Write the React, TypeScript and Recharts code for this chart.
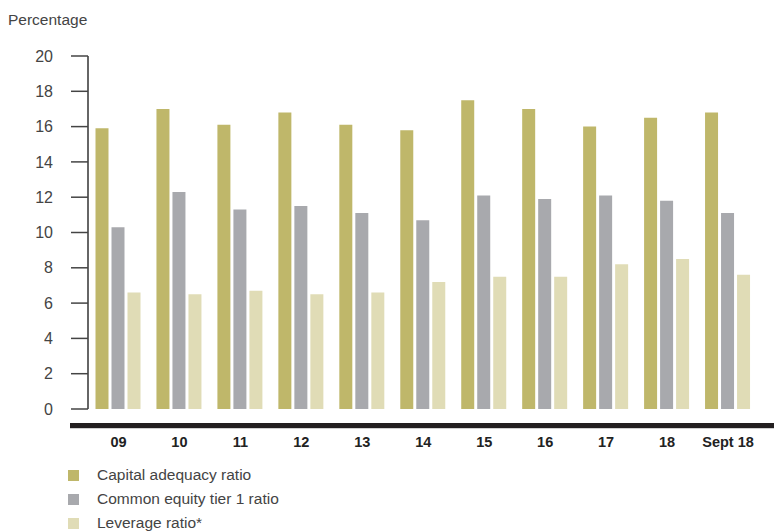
import React from 'react';
import { BarChart, Bar, XAxis, YAxis, Legend } from 'recharts';

const categories = ['09', '10', '11', '12', '13', '14', '15', '16', '17', '18', 'Sept 18'];
const capitalAdequacy = [15.9, 17.0, 16.1, 16.8, 16.1, 15.8, 17.5, 17.0, 16.0, 16.5, 16.8];
const commonEquityTier1 = [10.3, 12.3, 11.3, 11.5, 11.1, 10.7, 12.1, 11.9, 12.1, 11.8, 11.1];
const leverage = [6.6, 6.5, 6.7, 6.5, 6.6, 7.2, 7.5, 7.5, 8.2, 8.5, 7.6];
const yTicks = [0, 2, 4, 6, 8, 10, 12, 14, 16, 18, 20];

const data = categories.map((name, i) => ({
    name,
    capital: capitalAdequacy[i],
    cet1: commonEquityTier1[i],
    leverage: leverage[i],
}));

const FONT = '"Liberation Sans", Arial, Helvetica, sans-serif';

const LegendList = ({ payload }: any) => (
    <div style={{ fontFamily: FONT }}>
        {(payload || []).map((p: any) => (
            <div key={p.value} style={{ display: 'flex', alignItems: 'center', height: 24 }}>
                <span style={{ width: 11, height: 11, background: p.color, display: 'inline-block', marginRight: 18 }} />
                <span style={{ fontSize: 15.5, color: '#444' }}>{p.value}</span>
            </div>
        ))}
    </div>
);

export default function App() {
    return (
        <div style={{ position: 'absolute', left: 0, top: 0, width: 774, height: 531, fontFamily: FONT }}>
            <div style={{ position: 'absolute', left: 8, top: 11, fontSize: 15.5, color: '#444' }}>Percentage</div>
            {/* thick base rule under the bars */}
            <div style={{ position: 'absolute', left: 70, top: 423, width: 704, height: 5, background: '#231f20' }} />
            <div style={{ position: 'absolute', left: 70, top: 428, width: 704, height: 1, background: '#d0d0d0' }} />
            <BarChart
                width={774}
                height={531}
                data={data}
                margin={{ top: 56, right: 15.5, left: 0, bottom: 92 }}
                barCategoryGap={7.5}
                barGap={3}
            >
                <YAxis
                    width={88}
                    domain={[0, 20]}
                    ticks={yTicks}
                    interval={0}
                    axisLine={{ stroke: '#333', strokeWidth: 1.5 }}
                    tickLine={{ stroke: '#444', strokeWidth: 1.5 }}
                    tickSize={17}
                    tickMargin={18}
                    tick={{ fill: '#444', fontSize: 16, fontFamily: FONT }}
                />
                <XAxis
                    dataKey="name"
                    height={30}
                    axisLine={false}
                    tickLine={false}
                    tickMargin={22}
                    interval={0}
                    tick={{ fill: '#222', fontSize: 14.5, fontWeight: 'bold', fontFamily: FONT }}
                />
                <Legend
                    layout="horizontal"
                    verticalAlign="middle"
                    wrapperStyle={{ top: 463, left: 68, width: 400 }}
                    content={<LegendList />}
                />
                <Bar dataKey="capital" name="Capital adequacy ratio" fill="#bfb76a" isAnimationActive={false} />
                <Bar dataKey="cet1" name="Common equity tier 1 ratio" fill="#a8a9ad" isAnimationActive={false} />
                <Bar dataKey="leverage" name="Leverage ratio*" fill="#e0dcb6" isAnimationActive={false} />
            </BarChart>
        </div>
    );
}
